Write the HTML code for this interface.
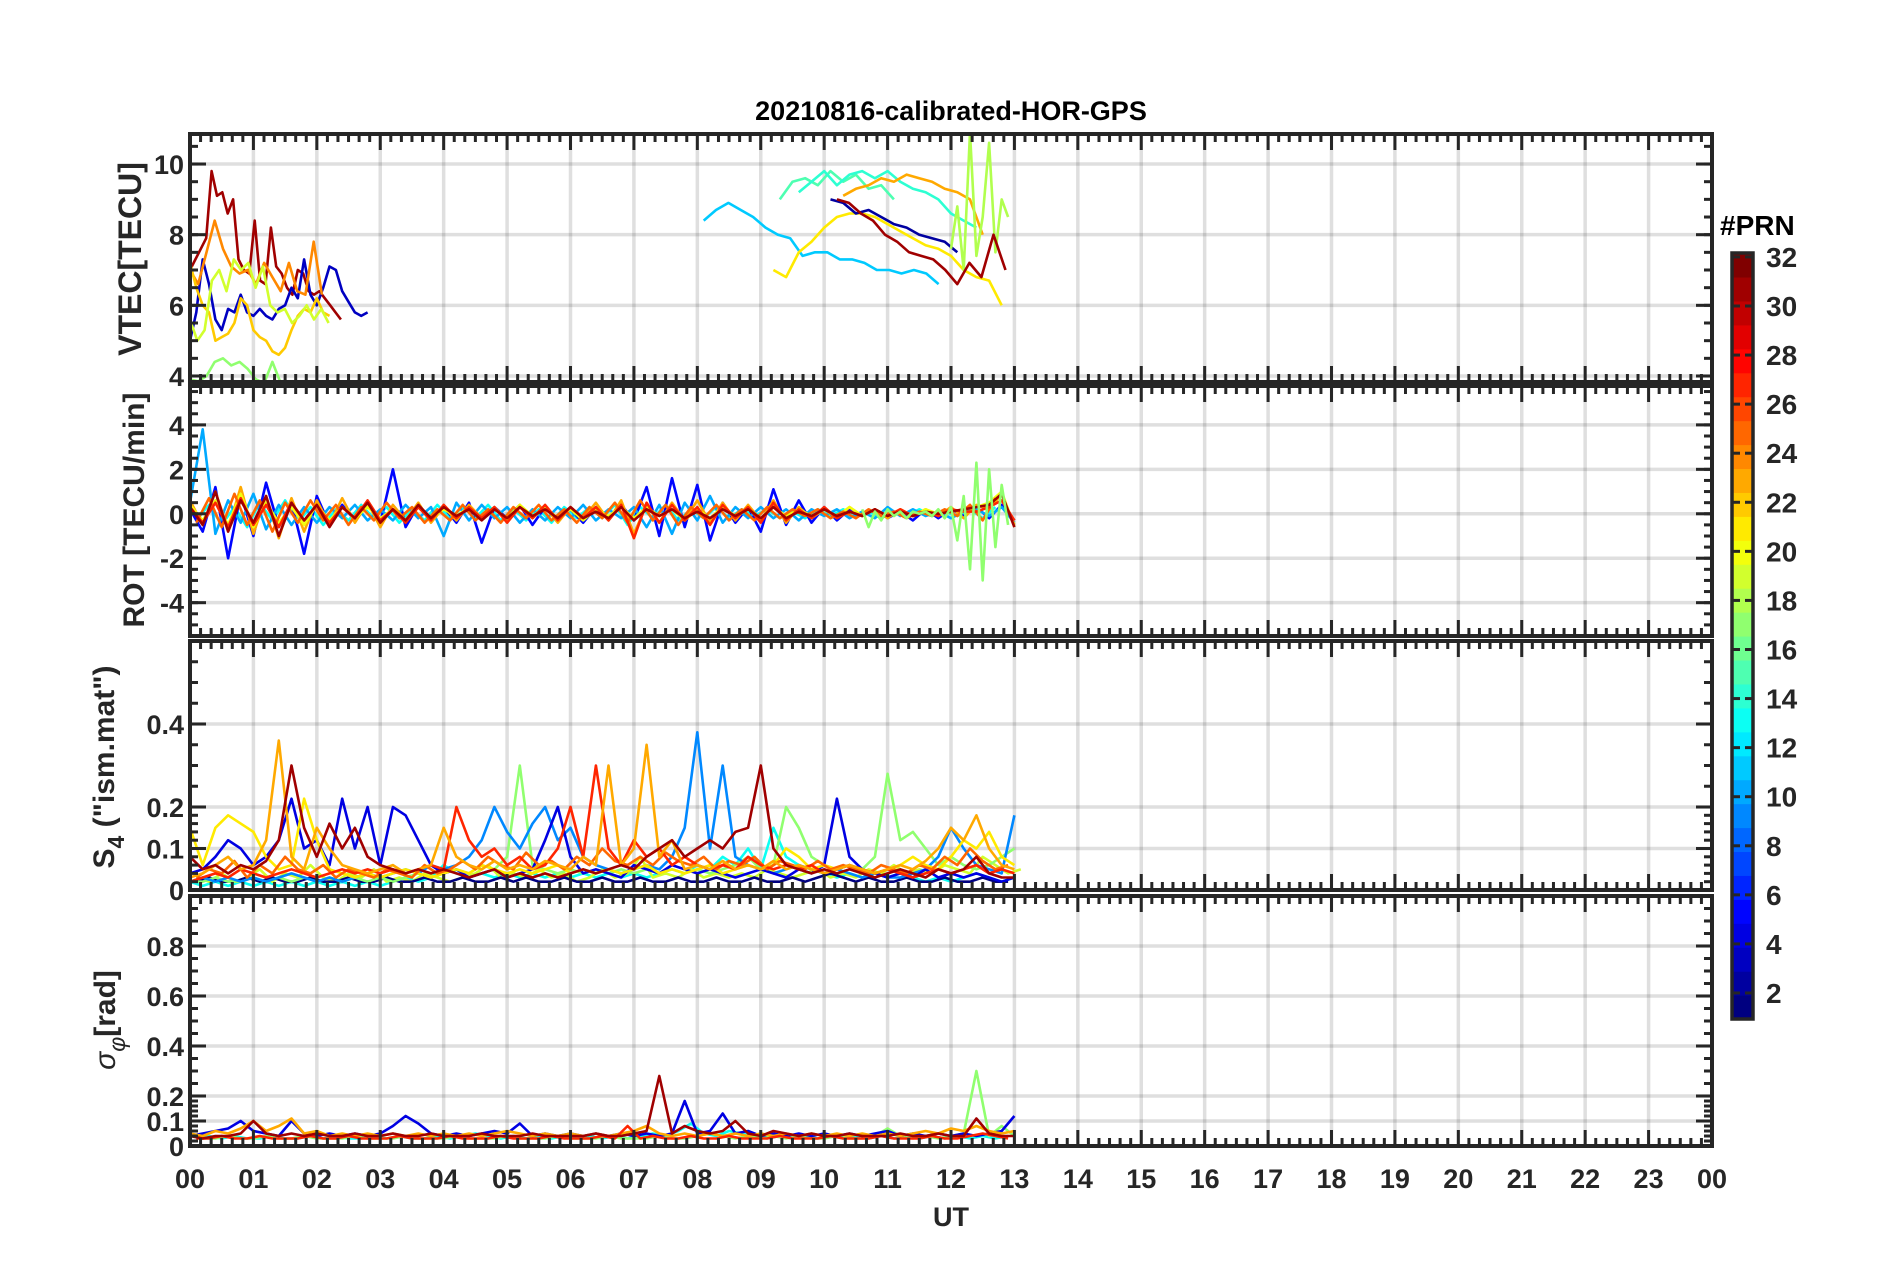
<!DOCTYPE html>
<html><head><meta charset="utf-8"><style>
html,body{margin:0;padding:0;background:#fff}
svg{display:block;font-family:"Liberation Sans",Arial,sans-serif}
</style></head><body>
<svg id="c" width="1902" height="1272" viewBox="0 0 1902 1272" xmlns="http://www.w3.org/2000/svg">
<text x="951" y="120" text-anchor="middle" font-size="27" font-weight="bold" fill="#000">20210816-calibrated-HOR-GPS</text>
<text x="951" y="1226" text-anchor="middle" font-size="27" font-weight="bold" fill="#262626">UT</text>
<text transform="translate(141,259) rotate(-90)" text-anchor="middle" font-size="32" font-weight="bold" fill="#262626">VTEC[TECU]</text>
<text transform="translate(144,510) rotate(-90)" text-anchor="middle" font-size="30" font-weight="bold" fill="#262626">ROT [TECU/min]</text>
<text transform="translate(114,767) rotate(-90)" text-anchor="middle" font-size="30" font-weight="bold" fill="#262626">S<tspan dy="10" font-size="23">4</tspan><tspan dy="-10"> ("ism.mat")</tspan></text>
<text transform="translate(115,1020) rotate(-90)" text-anchor="middle" font-size="30" font-weight="bold" fill="#262626"><tspan font-style="italic" font-weight="normal">σ</tspan><tspan dy="10" font-size="23" font-style="italic" font-weight="normal">φ</tspan><tspan dy="-10">[rad]</tspan></text>
<text x="1720" y="235" font-size="28" font-weight="bold" fill="#000">#PRN</text>
<g id="layer"></g>
</svg>
<script>
// ---------- data ----------
const vtecPrn = [31, 3, 24, 22, 19, 17, 11, 21, 15, 14, 23, 2, 18, 31];
const vtecStart = [0.0, 0.0, 0.0, 0.0, 0.0, 0.0, 8.1, 9.2, 9.3, 9.6, 10.3, 10.1, 12.0, 10.2];
const vtecStep = [0.085, 0.1, 0.13, 0.1, 0.115, 0.13, 0.195, 0.2, 0.2, 0.2, 0.2, 0.2, 0.1, 0.19];
const vtec31a = [7.0,7.3,7.6,7.9,9.8,9.1,9.2,8.6,9.0,7.3,7.0,6.9,8.4,6.7,6.6,8.2,7.1,6.9,6.5,6.3,7.0,6.9,6.4,6.3,6.4,6.2,6.0,5.8,5.6];
const vtec03 = [5.0,5.8,7.3,6.6,5.6,5.3,5.9,5.8,6.3,5.8,5.7,5.9,5.7,5.6,5.9,6.0,6.5,6.2,7.3,6.3,6.0,6.5,7.1,7.0,6.4,6.1,5.8,5.7,5.8];
const vtec24 = [7.0,6.6,7.5,8.4,7.6,7.1,6.9,7.0,6.6,7.2,6.8,6.4,7.2,6.4,6.3,7.8,6.3];
const vtec22 = [7.2,6.5,6.0,5.8,5.0,5.1,5.2,5.5,6.2,6.0,5.3,5.1,5.0,4.7,4.6,4.8,5.3,5.7,5.9,5.8,6.2,5.8,5.7];
const vtec19 = [5.6,5.0,5.3,6.7,7.0,6.4,7.3,7.0,7.2,6.5,7.1,6.0,5.8,5.9,5.5,5.7,6.0,5.6,5.9,5.5];
const vtec17 = [3.9,3.85,4.0,4.4,4.5,4.3,4.4,4.2,3.9,3.8,4.4,3.8];
const vtec11 = [8.4,8.7,8.9,8.7,8.5,8.2,8.0,7.9,7.4,7.5,7.5,7.3,7.3,7.2,7.0,7.0,6.9,7.0,6.9,6.6];
const vtec21 = [7.0,6.8,7.5,7.8,8.2,8.5,8.6,8.6,8.5,8.3,8.1,7.9,7.7,7.6,7.4,7.0,6.8,6.7,6.0];
const vtec15 = [9.0,9.5,9.6,9.4,9.8,9.5,9.7,9.3,9.4,9.0];
const vtec14 = [9.2,9.5,9.8,9.4,9.7,9.8,9.6,9.8,9.5,9.3,9.2,9.0,8.6,8.4,8.2];
const vtec23 = [9.1,9.3,9.4,9.6,9.5,9.7,9.6,9.5,9.3,9.2,9.0,8.0];
const vtec02 = [9.0,8.9,8.6,8.7,8.5,8.3,8.2,8.0,7.9,7.8,7.5];
const vtec18 = [7.6,8.8,7.0,10.9,7.4,8.5,10.6,7.5,9.0,8.5];
const vtec31b = [9.0,8.9,8.6,8.4,8.0,7.8,7.5,7.4,7.3,7.0,6.6,7.2,6.8,8.0,7.0];
const vtecVals = [vtec31a,vtec03,vtec24,vtec22,vtec19,vtec17,vtec11,vtec21,vtec15,vtec14,vtec23,vtec02,vtec18,vtec31b];

const rotPrn = [13, 5, 10, 23, 20, 25, 27, 31, 17];
const rotStart = [0.1, 0, 0, 0, 0, 0.1, 0, 0, 10.6];
const rotStep = [0.2, 0.2, 0.2, 0.2, 0.2, 0.2, 0.2, 0.2, 0.1];
const rot13 = [-0.3,0.4,-0.5,0.3,-0.6,0.5,-0.3,0.6,-0.4,0.3,-0.5,0.2,-0.3,0.4,-0.2,0.3,-0.4,0.2,-0.3,0.4,-0.2,0.3,-0.2,0.4,-0.3,0.2,-0.3,0.2,-0.4,0.3,-0.2,0.3,-0.2,0.4,-0.5,0.3,-0.2,0.4,-0.3,0.2,-0.2,0.3,-0.2,0.2,-0.1,0.2,-0.2,0.1,-0.2,0.2,-0.1,0.2,-0.1,0.1,-0.2,0.1,-0.1,0.2,-0.1,0.1,-0.1,0.2,-0.2,0.3];
const rot05 = [0.2,-0.8,1.2,-2.0,0.9,-1.0,1.4,-0.6,0.5,-1.8,0.8,-0.5,0.4,-0.3,0.5,-0.4,2.0,-0.6,0.4,-0.3,0.3,-0.4,0.5,-1.3,0.3,-0.2,0.4,-0.5,0.3,-0.3,0.2,-0.4,0.3,-0.2,0.4,-0.3,1.2,-1.0,1.6,-0.6,1.3,-1.2,0.5,-0.4,0.3,-0.8,1.1,-0.5,0.6,-0.4,0.3,-0.3,0.2,-0.1,0.2,-0.2,0.1,-0.3,0.2,-0.2,0.2,-0.1,0.3,-0.2,0.4,-0.3];
const rot10 = [0.5,3.8,-0.9,0.6,-0.4,0.9,-0.7,0.4,-0.5,0.3,-0.4,0.3,-0.2,0.4,-0.3,0.2,-0.3,0.4,-0.2,0.3,-1.0,0.5,-0.3,0.4,-0.2,0.3,-0.4,0.2,-0.3,0.3,-0.2,0.4,-0.3,0.2,-0.2,0.3,-0.6,0.4,-0.9,0.5,-0.3,0.8,-0.4,0.3,-0.2,0.3,-0.2,0.2,-0.3,0.2,-0.1,0.2,-0.2,0.1,-0.2,0.3,-0.1,0.2,-0.1,0.1,-0.2,0.1,0.2,-0.1,0.3,-0.4];
const rot23 = [0.6,-0.5,1.0,-0.7,1.2,-0.9,0.8,-1.1,0.7,-0.8,0.6,-0.5,0.7,-0.4,0.5,-0.6,0.4,-0.3,0.5,-0.4,0.3,-0.3,0.4,-0.2,0.3,-0.3,0.4,-0.2,0.3,-0.4,0.3,-0.2,0.5,-0.3,0.6,-0.9,0.4,-0.4,0.5,-0.3,0.6,-0.4,0.5,-0.3,0.4,-0.3,0.6,-0.4,0.3,-0.2,0.2,-0.2,0.3,-0.1,0.2,-0.2,0.2,-0.1,0.2,-0.1,0.3,-0.2,0.4,0.2,0.9,-0.5];
const rot20 = [0.4,-0.3,0.6,-0.5,0.9,-0.6,0.5,-0.4,0.3,-0.5,0.4,-0.3,0.3,-0.2,0.3,-0.2,0.2,-0.3,0.3,-0.2,0.2,-0.1,0.3,-0.2,0.2,-0.2,0.4,-0.1,0.3,-0.2,0.2,-0.3,0.2,-0.1,0.3,-0.2,0.3,-0.1,0.2,-0.3,0.2,-0.2,0.3,-0.1,0.2,-0.2,0.3,-0.1,0.2,-0.1,0.2,-0.1,0.3,-0.1,0.2,-0.1,0.1,-0.1,0.2,0.0,0.1,0.2,0.3,0.5,1.0,-0.6];
const rot25 = [-0.4,0.7,-0.6,0.9,-0.5,0.6,-0.8,0.5,-0.4,0.6,-0.3,0.4,-0.5,0.3,-0.3,0.5,-0.2,0.3,-0.4,0.2,-0.3,0.4,-0.3,0.2,-0.4,0.3,-0.2,0.4,-0.3,0.2,-0.4,0.3,-0.2,0.5,-0.4,0.6,-0.3,0.4,-0.5,0.3,-0.2,0.4,-0.3,0.2,-0.3,0.3,-0.2,0.2,-0.1,0.2,-0.2,0.1,-0.2,0.2,-0.1,0.1,-0.2,0.1,-0.1,0.2,-0.1,0.4,-0.3,0.7];
const rot27 = [0.3,-0.4,0.5,-0.6,0.7,-0.5,0.4,-0.6,0.5,-0.3,0.4,-0.4,0.3,-0.2,0.6,-0.3,0.2,-0.4,0.3,-0.3,0.4,-0.2,0.3,-0.2,0.3,-0.4,0.3,-0.2,0.4,-0.3,0.3,-0.2,0.3,-0.3,0.4,-1.1,0.5,-0.4,0.4,-0.3,0.3,-0.5,0.4,-0.2,0.3,-0.4,0.5,-0.3,0.2,-0.2,0.3,-0.2,0.1,-0.1,0.2,-0.1,0.2,-0.1,0.1,-0.1,0.2,0.1,0.1,0.3,0.6,-0.3];
const rot31 = [0.3,-0.5,1.0,-0.8,0.6,-0.4,0.8,-1.0,0.5,-0.3,0.4,-0.6,0.3,-0.2,0.5,-0.4,0.2,-0.3,0.4,-0.2,0.3,-0.1,0.2,-0.3,0.2,-0.2,0.3,-0.1,0.2,-0.2,0.3,-0.2,0.1,-0.2,0.3,-0.3,0.2,-0.1,0.2,-0.2,0.1,-0.2,0.2,-0.1,0.2,-0.2,0.3,-0.2,0.1,-0.1,0.2,-0.1,0.1,-0.1,0.2,-0.1,0.1,-0.1,0.1,0.0,0.1,0.2,0.3,0.4,0.9,-0.6];
const rot17 = [0.2,-0.6,0.1,-0.3,0.2,-0.1,0.1,-0.2,0.1,0.0,0.1,-0.1,0.2,-0.2,0.3,-1.2,0.8,-2.5,2.3,-3.0,2.0,-1.5,1.3,-0.5];
const rotVals = [rot13,rot05,rot10,rot23,rot20,rot25,rot27,rot31,rot17];

const s4Prn = [13, 19, 1, 17, 9, 4, 21, 25, 27, 23, 31];
const s4Off = [0, 0.1, 0.1, 0, 0, 0, 0, 0.1, 0, 0, 0];
const s4Step = 0.2;
const s4_13 = [0.02,0.01,0.02,0.01,0.02,0.01,0.02,0.01,0.02,0.01,0.02,0.01,0.02,0.01,0.02,0.01,0.02,0.03,0.02,0.03,0.06,0.04,0.03,0.04,0.03,0.04,0.03,0.04,0.03,0.04,0.03,0.04,0.03,0.04,0.03,0.04,0.03,0.04,0.05,0.04,0.06,0.05,0.08,0.06,0.1,0.05,0.15,0.08,0.06,0.05,0.04,0.03,0.04,0.03,0.04,0.03,0.04,0.03,0.02,0.03,0.02,0.03,0.04,0.03,0.02,0.03];
const s4_19 = [0.03,0.02,0.04,0.02,0.03,0.05,0.02,0.04,0.03,0.06,0.03,0.02,0.04,0.03,0.05,0.02,0.03,0.02,0.04,0.03,0.02,0.03,0.04,0.06,0.03,0.04,0.03,0.05,0.03,0.04,0.02,0.03,0.05,0.03,0.04,0.08,0.03,0.04,0.03,0.05,0.03,0.04,0.03,0.04,0.03,0.05,0.04,0.03,0.04,0.05,0.03,0.04,0.03,0.05,0.04,0.06,0.04,0.05,0.04,0.06,0.05,0.04,0.08,0.06,0.04,0.05];
const s4_01 = [0.02,0.03,0.02,0.02,0.03,0.02,0.03,0.02,0.02,0.03,0.02,0.02,0.03,0.02,0.02,0.03,0.02,0.02,0.03,0.02,0.02,0.03,0.02,0.02,0.03,0.02,0.03,0.02,0.02,0.03,0.02,0.02,0.03,0.02,0.02,0.03,0.02,0.02,0.03,0.02,0.02,0.03,0.02,0.02,0.03,0.02,0.02,0.03,0.02,0.03,0.04,0.03,0.02,0.03,0.02,0.02,0.03,0.02,0.02,0.03,0.02,0.02,0.03,0.02,0.02];
const s4_17 = [0.02,0.02,0.03,0.02,0.02,0.03,0.02,0.03,0.02,0.03,0.02,0.03,0.02,0.03,0.02,0.03,0.02,0.03,0.04,0.03,0.04,0.05,0.04,0.06,0.05,0.08,0.3,0.06,0.05,0.04,0.05,0.04,0.05,0.04,0.05,0.04,0.05,0.04,0.05,0.04,0.05,0.04,0.05,0.06,0.08,0.05,0.06,0.2,0.15,0.08,0.06,0.05,0.06,0.05,0.08,0.28,0.12,0.14,0.1,0.06,0.08,0.06,0.05,0.06,0.08,0.1];
const s4_09 = [0.02,0.03,0.02,0.03,0.02,0.03,0.02,0.03,0.04,0.03,0.02,0.03,0.02,0.03,0.04,0.03,0.04,0.05,0.04,0.06,0.05,0.06,0.08,0.12,0.2,0.14,0.1,0.16,0.2,0.12,0.15,0.08,0.06,0.05,0.04,0.05,0.06,0.05,0.08,0.15,0.38,0.1,0.3,0.08,0.06,0.05,0.04,0.05,0.06,0.05,0.04,0.05,0.04,0.03,0.04,0.03,0.03,0.04,0.05,0.08,0.15,0.1,0.06,0.05,0.04,0.18];
const s4_04 = [0.04,0.05,0.08,0.12,0.1,0.06,0.08,0.12,0.22,0.1,0.12,0.06,0.22,0.1,0.2,0.06,0.2,0.18,0.12,0.06,0.04,0.05,0.03,0.04,0.05,0.03,0.04,0.05,0.12,0.2,0.08,0.04,0.05,0.04,0.03,0.06,0.05,0.04,0.06,0.05,0.04,0.05,0.04,0.03,0.04,0.05,0.04,0.03,0.05,0.04,0.06,0.22,0.08,0.05,0.04,0.03,0.04,0.03,0.05,0.03,0.04,0.03,0.04,0.03,0.02,0.03];
const s4_21 = [0.15,0.06,0.15,0.18,0.16,0.14,0.08,0.05,0.06,0.22,0.12,0.05,0.04,0.03,0.04,0.03,0.04,0.05,0.04,0.03,0.04,0.05,0.04,0.06,0.05,0.04,0.05,0.04,0.05,0.06,0.04,0.05,0.04,0.05,0.04,0.05,0.06,0.04,0.05,0.04,0.05,0.06,0.04,0.05,0.06,0.05,0.06,0.1,0.08,0.05,0.06,0.05,0.06,0.05,0.04,0.05,0.06,0.08,0.06,0.05,0.08,0.12,0.1,0.14,0.08,0.06];
const s4_25 = [0.03,0.05,0.04,0.07,0.03,0.06,0.04,0.08,0.05,0.04,0.06,0.03,0.05,0.04,0.03,0.05,0.04,0.03,0.06,0.04,0.05,0.07,0.05,0.08,0.06,0.05,0.09,0.06,0.07,0.05,0.08,0.06,0.1,0.07,0.06,0.08,0.06,0.09,0.07,0.06,0.08,0.05,0.07,0.06,0.08,0.05,0.07,0.06,0.05,0.07,0.05,0.06,0.05,0.04,0.06,0.05,0.04,0.06,0.05,0.08,0.06,0.1,0.07,0.05,0.06];
const s4_27 = [0.02,0.03,0.04,0.03,0.05,0.04,0.03,0.04,0.05,0.04,0.03,0.04,0.05,0.04,0.05,0.04,0.05,0.04,0.05,0.06,0.05,0.2,0.12,0.08,0.1,0.06,0.08,0.05,0.06,0.1,0.2,0.08,0.3,0.1,0.06,0.12,0.08,0.1,0.06,0.08,0.06,0.05,0.06,0.05,0.08,0.06,0.05,0.06,0.05,0.06,0.04,0.05,0.06,0.05,0.04,0.05,0.04,0.03,0.04,0.05,0.04,0.05,0.06,0.04,0.05,0.04];
const s4_23 = [0.03,0.04,0.06,0.08,0.05,0.06,0.12,0.36,0.08,0.05,0.15,0.1,0.06,0.05,0.04,0.05,0.06,0.04,0.05,0.06,0.15,0.08,0.06,0.05,0.07,0.05,0.06,0.05,0.07,0.06,0.05,0.08,0.06,0.3,0.06,0.1,0.35,0.08,0.12,0.05,0.06,0.05,0.07,0.05,0.06,0.05,0.07,0.05,0.06,0.05,0.04,0.05,0.06,0.05,0.04,0.05,0.06,0.05,0.07,0.1,0.15,0.12,0.18,0.1,0.06,0.05];
const s4_31 = [0.08,0.05,0.06,0.04,0.06,0.05,0.07,0.12,0.3,0.15,0.08,0.16,0.1,0.15,0.08,0.06,0.05,0.04,0.05,0.04,0.05,0.04,0.03,0.04,0.05,0.03,0.04,0.03,0.04,0.03,0.04,0.05,0.04,0.05,0.06,0.05,0.08,0.1,0.12,0.08,0.1,0.12,0.1,0.14,0.15,0.3,0.1,0.06,0.05,0.04,0.05,0.04,0.05,0.04,0.03,0.04,0.05,0.04,0.03,0.05,0.04,0.05,0.08,0.04,0.03,0.03];
const s4Vals = [s4_13,s4_19,s4_01,s4_17,s4_09,s4_04,s4_21,s4_25,s4_27,s4_23,s4_31];

const sigPrn = [13, 17, 4, 23, 27, 31];
const sigOff = [0.1, 0, 0, 0, 0.1, 0];
const sigStep = 0.2;
const sig13 = [0.03,0.04,0.03,0.04,0.03,0.03,0.04,0.03,0.03,0.04,0.03,0.04,0.03,0.03,0.04,0.03,0.04,0.03,0.03,0.04,0.03,0.04,0.05,0.04,0.03,0.04,0.03,0.04,0.03,0.04,0.03,0.04,0.03,0.04,0.03,0.04,0.05,0.04,0.06,0.09,0.05,0.04,0.06,0.05,0.04,0.03,0.04,0.03,0.04,0.03,0.04,0.03,0.04,0.03,0.04,0.03,0.04,0.03,0.04,0.03,0.04,0.03,0.04,0.03,0.04];
const sig17 = [0.05,0.03,0.03,0.04,0.03,0.03,0.04,0.03,0.03,0.04,0.03,0.03,0.03,0.04,0.03,0.03,0.03,0.04,0.03,0.03,0.03,0.04,0.03,0.03,0.03,0.04,0.03,0.03,0.03,0.04,0.03,0.03,0.03,0.04,0.03,0.03,0.03,0.04,0.03,0.03,0.04,0.05,0.04,0.03,0.04,0.03,0.04,0.03,0.04,0.03,0.03,0.04,0.03,0.03,0.04,0.07,0.04,0.03,0.04,0.03,0.04,0.05,0.3,0.04,0.08,0.04];
const sig04 = [0.04,0.05,0.06,0.07,0.1,0.06,0.05,0.04,0.1,0.05,0.04,0.05,0.04,0.05,0.04,0.05,0.08,0.12,0.09,0.05,0.04,0.05,0.04,0.05,0.06,0.05,0.09,0.04,0.05,0.04,0.05,0.04,0.05,0.04,0.05,0.04,0.05,0.04,0.05,0.18,0.05,0.06,0.13,0.05,0.06,0.04,0.05,0.04,0.05,0.04,0.05,0.04,0.05,0.04,0.05,0.06,0.04,0.05,0.04,0.05,0.04,0.05,0.04,0.05,0.06,0.12];
const sig23 = [0.05,0.04,0.06,0.05,0.07,0.1,0.06,0.08,0.11,0.05,0.06,0.04,0.05,0.04,0.05,0.04,0.05,0.04,0.05,0.04,0.05,0.04,0.05,0.04,0.05,0.06,0.05,0.04,0.05,0.04,0.05,0.04,0.05,0.04,0.05,0.06,0.08,0.05,0.04,0.05,0.04,0.05,0.04,0.05,0.04,0.05,0.04,0.05,0.04,0.05,0.04,0.05,0.04,0.05,0.04,0.05,0.04,0.05,0.06,0.05,0.07,0.06,0.08,0.06,0.05,0.06];
const sig27 = [0.03,0.03,0.04,0.03,0.03,0.04,0.03,0.03,0.03,0.04,0.03,0.03,0.04,0.03,0.03,0.03,0.04,0.03,0.03,0.03,0.04,0.03,0.03,0.03,0.04,0.03,0.03,0.03,0.04,0.03,0.03,0.03,0.04,0.03,0.08,0.03,0.04,0.03,0.03,0.04,0.03,0.03,0.04,0.03,0.03,0.03,0.04,0.03,0.03,0.03,0.04,0.03,0.03,0.03,0.04,0.03,0.03,0.03,0.04,0.03,0.03,0.04,0.05,0.04,0.03];
const sig31 = [0.04,0.03,0.04,0.04,0.05,0.1,0.05,0.04,0.05,0.04,0.05,0.04,0.04,0.05,0.04,0.04,0.05,0.04,0.04,0.05,0.04,0.04,0.04,0.05,0.04,0.04,0.04,0.05,0.04,0.04,0.04,0.04,0.05,0.04,0.04,0.05,0.06,0.28,0.05,0.08,0.06,0.05,0.06,0.1,0.05,0.04,0.06,0.05,0.04,0.05,0.04,0.04,0.05,0.04,0.04,0.04,0.05,0.04,0.04,0.05,0.04,0.04,0.11,0.05,0.04,0.04];
const sigVals = [sig13,sig17,sig04,sig23,sig27,sig31];

const xTickLabels = ["00","01","02","03","04","05","06","07","08","09","10","11","12","13","14","15","16","17","18","19","20","21","22","23","00"];
const cbTickLabels = [2,4,6,8,10,12,14,16,18,20,22,24,26,28,30,32];

// ---------- layout ----------
const NS = "http://www.w3.org/2000/svg";
const layer = document.getElementById('layer');
const L = 190, R = 1712;
const xs = h => L + (R - L) * h / 24;
function mk(tag, attrs, parent) {
  const e = document.createElementNS(NS, tag);
  for (const k in attrs) e.setAttribute(k, attrs[k]);
  (parent || layer).appendChild(e);
  return e;
}
function jet(p) {
  const t = (p - 1) / 31;
  const c = v => Math.round(255 * Math.max(0, Math.min(1, v)));
  return `rgb(${c(1.5 - Math.abs(4*t - 3))},${c(1.5 - Math.abs(4*t - 2))},${c(1.5 - Math.abs(4*t - 1))})`;
}
const panels = [
  {name:'vtec', top:134, bot:382, min:3.83, max:10.85, major:[4,6,8,10], labels:['4','6','8','10'], minor:[]},
  {name:'rot', top:386, bot:636, min:-5.5, max:5.75, major:[-4,-2,0,2,4], labels:['-4','-2','0','2','4'], minor:[]},
  {name:'s4', top:641, bot:890, min:0, max:0.6, major:[0,0.1,0.2,0.4], labels:['0','0.1','0.2','0.4'], minor:[]},
  {name:'sigma', top:896, bot:1146, min:0, max:1, major:[0,0.1,0.2,0.4,0.6,0.8], labels:['0','0.1','0.2','0.4','0.6','0.8'], minor:[]}
];
for (let v = 4; v <= 10.8; v += 0.5) panels[0].minor.push(v);
for (let v = -5.5; v <= 5.6; v += 0.5) panels[1].minor.push(v);
for (const P of [panels[2], panels[3]]) {
  for (let v = 0; v < 0.2; v += 0.02) P.minor.push(v);
  for (let v = 0.2; v <= P.max; v += 0.05) P.minor.push(v);
}
panels.forEach(P => { P.y = v => P.bot - (v - P.min) / (P.max - P.min) * (P.bot - P.top); });

const defs = mk('defs', {});
panels.forEach((P, i) => {
  const cp = mk('clipPath', {id: 'clip' + i}, defs);
  mk('rect', {x: L, y: P.top, width: R - L, height: P.bot - P.top}, cp);
});

function drawSeries(g, P, starts, steps, vals, prns, nm) {
  vals.forEach((arr, k) => {
    let d = '';
    arr.forEach((v, j) => { d += (j ? 'L' : 'M') + xs(starts[k] + j * steps[k]).toFixed(1) + ',' + P.y(v).toFixed(1); });
    const p = mk('path', {d: d, fill: 'none', stroke: jet(prns[k]), 'stroke-width': 2.6, 'stroke-linejoin': 'round'}, g);
    
    
  });
}

panels.forEach((P, i) => {
  const g = mk('g', {});
  
  
  for (let h = 1; h < 24; h++) mk('line', {x1: xs(h), x2: xs(h), y1: P.top, y2: P.bot, stroke: '#262626', 'stroke-opacity': 0.15, 'stroke-width': 3.5}, g);
  P.major.forEach(v => mk('line', {x1: L, x2: R, y1: P.y(v), y2: P.y(v), stroke: '#262626', 'stroke-opacity': 0.15, 'stroke-width': 3.5}, g));
  const dg = mk('g', {'clip-path': `url(#clip${i})`}, g);
  if (i === 0) drawSeries(dg, P, vtecStart, vtecStep, vtecVals, vtecPrn, 'vtec');
  if (i === 1) drawSeries(dg, P, rotStart, rotStep, rotVals, rotPrn, 'rot');
  if (i === 2) drawSeries(dg, P, s4Off, s4Vals.map(() => s4Step), s4Vals, s4Prn, 's4');
  if (i === 3) drawSeries(dg, P, sigOff, sigVals.map(() => sigStep), sigVals, sigPrn, 'sigma');
  const tc = '#262626';
  for (let m = 0; m <= 144; m++) {
    const x = xs(m / 6), len = (m % 6 === 0) ? 16 : 8;
    mk('line', {x1: x, x2: x, y1: P.top, y2: P.top + len, stroke: tc, 'stroke-width': 3}, g);
    mk('line', {x1: x, x2: x, y1: P.bot, y2: P.bot - len, stroke: tc, 'stroke-width': 3}, g);
  }
  P.minor.forEach(v => {
    const y = P.y(v);
    mk('line', {x1: L, x2: L + 8, y1: y, y2: y, stroke: tc, 'stroke-width': 3}, g);
    mk('line', {x1: R, x2: R - 8, y1: y, y2: y, stroke: tc, 'stroke-width': 3}, g);
  });
  P.major.forEach((v, k) => {
    const y = P.y(v);
    mk('line', {x1: L, x2: L + 16, y1: y, y2: y, stroke: tc, 'stroke-width': 3}, g);
    mk('line', {x1: R, x2: R - 16, y1: y, y2: y, stroke: tc, 'stroke-width': 3}, g);
    const t = mk('text', {x: L - 6, y: y + 10, 'text-anchor': 'end', 'font-size': 27, 'font-weight': 'bold', fill: tc}, g);
    t.textContent = P.labels[k];
    
    
  });
  mk('rect', {x: L, y: P.top, width: R - L, height: P.bot - P.top, fill: 'none', stroke: tc, 'stroke-width': 4}, g);
});

xTickLabels.forEach((s, h) => {
  const t = mk('text', {x: xs(h), y: 1188, 'text-anchor': 'middle', 'font-size': 27, 'font-weight': 'bold', fill: '#262626'});
  t.textContent = s;
  
  
});

const cbTop = 253, cbBot = 1019, cbL = 1732, cbR = 1753, cMin = 0.94, cMax = 32.16;
const cy = v => cbBot - (v - cMin) / (cMax - cMin) * (cbBot - cbTop);
const cbg = mk('g', {});


for (let k = 0; k < 32; k++) {
  const h = (cbBot - cbTop) / 32;
  mk('rect', {x: cbL, y: cbBot - (k + 1) * h, width: cbR - cbL, height: h + 0.6, fill: jet(k + 1)}, cbg);
}
cbTickLabels.forEach(v => {
  mk('line', {x1: cbL, x2: cbL + 8, y1: cy(v), y2: cy(v), stroke: '#262626', 'stroke-width': 3}, cbg);
  mk('line', {x1: cbR, x2: cbR - 8, y1: cy(v), y2: cy(v), stroke: '#262626', 'stroke-width': 3}, cbg);
  const t = mk('text', {x: 1766, y: cy(v) + 10, 'font-size': 28, 'font-weight': 'bold', fill: '#262626'}, cbg);
  t.textContent = v;
  
  
});
mk('rect', {x: cbL, y: cbTop, width: cbR - cbL, height: cbBot - cbTop, fill: 'none', stroke: '#262626', 'stroke-width': 3.5}, cbg);
</script>
</body></html>
